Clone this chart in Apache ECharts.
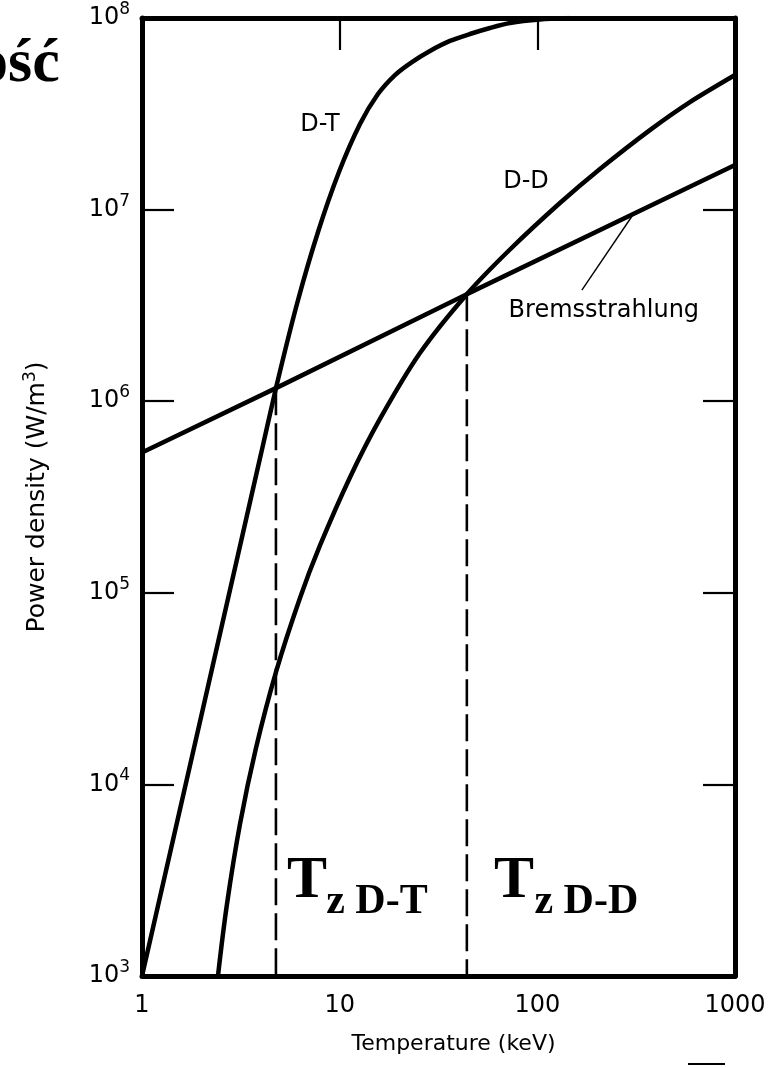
<!DOCTYPE html>
<html><head><meta charset="utf-8">
<script src="https://cdn.jsdelivr.net/npm/echarts@6/dist/echarts.min.js"></script>
<style>html,body{margin:0;padding:0;background:#fff}#c{width:782px;height:1068px}</style>
</head><body><div id="c"></div>
<script>
// ---- data ----
const xTickLabels = ['1', '10', '100', '1000'];
const yTickExponents = ['0', '1', '2', '3', '4', '5', '6', '7', '8'];

const bremsT = [1, 4.76, 44, 1000];
const bremsP = [5.4e5, 1.17e6, 3.62e6, 1.71e7];

const dtT = [1, 2, 3, 4, 4.762, 6.081, 7.77, 9.92, 12.67, 15.62, 19.05, 23.21, 28.63, 36.14, 45.62, 57.58, 72.67, 103.1, 146.2];
const dtP = [1e3, 2.305e4, 1.444e5, 5.31e5, 1.172e6, 3.217e6, 7.64e6, 1.571e7, 2.797e7, 4.01e7, 5.04e7, 5.89e7, 6.73e7, 7.59e7, 8.25e7, 8.87e7, 9.42e7, 9.83e7, 1e8];

const ddT = [2.26, 2.423, 2.692, 3.131, 3.773, 4.762, 6.299, 7.953, 11.27, 15.99, 25.48, 44, 72.7, 130.1, 207.4, 371.1, 591.6, 1000];
const ddP = [4.86e2, 1e3, 2.38e3, 6.21e3, 1.549e4, 3.86e4, 9.4e4, 1.766e5, 4.0e5, 8.08e5, 1.785e6, 3.62e6, 6.19e6, 1.082e7, 1.629e7, 2.6e7, 3.64e7, 5.04e7];

const ignitionT = [4.76, 44];
const ignitionP = [1.17e6, 3.62e6];
const floorP = 1e3;

const pointerT = [168, 304.6];
const pointerP = [3.8e6, 9.4e6];

const curveLabelText = ['D-T', 'D-D', 'Bremsstrahlung'];
const curveLabelT = [7.95, 87.6, 217];
const curveLabelP = [2.77e7, 1.39e7, 2.96e6];

const tzMainT = [6.83, 76.1];
const tzMainP = [3.13e3, 3.13e3];
const tzSubText = ['z D-T', 'z D-D'];
const tzSubT = [15.44, 177];
const tzSubP = [2.43e3, 2.43e3];

// ---- chart ----
const FONT = 'DejaVu Sans';
const SERIF = 'Liberation Serif';
const zip = (a, b) => a.map((v, i) => [v, b[i]]);
const chart = echarts.init(document.getElementById('c'), null, {renderer: 'canvas'});
const black = '#000';
const lineAxis = {color: black, width: 5};
const tickStyle = {color: black, width: 2.2};

const textLabel = (txt, family, size, weight) => ({
  show: true, position: [0, 0], align: 'center', verticalAlign: 'middle',
  formatter: txt, fontFamily: family, fontSize: size, fontWeight: weight || 'normal',
  color: black, opacity: 1, textBorderWidth: 0
});

const option = {
  animation: false,
  backgroundColor: '#fff',
  grid: {left: 142, right: 47, top: 18, bottom: 92, outerBoundsMode: 'none', containLabel: false},
  xAxis: [
    {
      type: 'log', logBase: 10, min: 1, max: 1000, position: 'bottom',
      axisLine: {onZero: false, lineStyle: lineAxis},
      axisTick: {show: false}, minorTick: {show: false}, splitLine: {show: false},
      axisLabel: {color: black, fontFamily: FONT, fontSize: 24, margin: 18,
        formatter: v => xTickLabels[Math.round(Math.log10(v))]},
      name: 'Temperature (keV)', nameLocation: 'middle', nameGap: 57,
      nameTextStyle: {color: black, fontFamily: FONT, fontSize: 22, padding: [0, 0, 0, 30]}
    },
    {
      type: 'log', logBase: 10, min: 1, max: 1000, position: 'top',
      axisLine: {onZero: false, lineStyle: lineAxis},
      axisTick: {show: true, inside: true, length: 32, lineStyle: tickStyle},
      axisLabel: {show: false}, splitLine: {show: false}
    }
  ],
  yAxis: [
    {
      type: 'log', logBase: 10, min: 1e3, max: 1e8, position: 'left',
      axisLine: {onZero: false, lineStyle: lineAxis},
      axisTick: {show: true, inside: true, length: 32, lineStyle: tickStyle},
      splitLine: {show: false},
      axisLabel: {
        color: black, margin: 12,
        formatter: v => '{b|10}{s|' + yTickExponents[Math.round(Math.log10(v))] + '}',
        rich: {
          b: {fontFamily: FONT, fontSize: 24, color: black, lineHeight: 34},
          s: {fontFamily: FONT, fontSize: 17, color: black, verticalAlign: 'top', lineHeight: 18}
        }
      },
      name: 'Power density (W/m{s|3})', nameLocation: 'middle', nameGap: 90,
      nameTextStyle: {color: black, fontFamily: FONT, fontSize: 25, lineHeight: 30,
        rich: {s: {fontFamily: FONT, fontSize: 17, color: black, verticalAlign: 'top', lineHeight: 16}}}
    },
    {
      type: 'log', logBase: 10, min: 1e3, max: 1e8, position: 'right',
      axisLine: {onZero: false, lineStyle: lineAxis},
      axisTick: {show: true, inside: true, length: 32, lineStyle: tickStyle},
      axisLabel: {show: false}, splitLine: {show: false}
    }
  ],
  graphic: [
    {type: 'text', left: -23, top: 34, style: {text: 'ość', font: 'bold 62px "Liberation Serif"', fill: black}},
    {type: 'line', shape: {x1: 688, y1: 1064, x2: 725, y2: 1064}, style: {stroke: black, lineWidth: 2}}
  ],
  series: [
    {type: 'line', name: 'Bremsstrahlung', data: zip(bremsT, bremsP), showSymbol: false, clip: true,
      lineStyle: {color: black, width: 4.5}},
    {type: 'line', name: 'D-T', data: zip(dtT, dtP), showSymbol: false, clip: true, smooth: 0.25,
      lineStyle: {color: black, width: 4.5}},
    {type: 'line', name: 'D-D', data: zip(ddT, ddP), showSymbol: false, clip: true, smooth: 0.25,
      lineStyle: {color: black, width: 4.5}},
    ...ignitionT.map((t, i) => ({
      type: 'line', name: 'ign' + i, data: [[t, ignitionP[i]], [t, floorP]], showSymbol: false,
      lineStyle: {color: black, width: 2.6, type: [27, 8]}
    })),
    {type: 'line', name: 'pointer', data: zip(pointerT, pointerP), showSymbol: false,
      lineStyle: {color: black, width: 1.4}},
    {type: 'scatter', name: 'labels', symbolSize: 0, silent: true, itemStyle: {opacity: 1, color: black},
      data: [
        ...curveLabelText.map((t, i) => ({value: [curveLabelT[i], curveLabelP[i]],
          label: textLabel(t, FONT, 24)})),
        ...tzMainT.map((t, i) => ({value: [t, tzMainP[i]],
          label: textLabel('T', SERIF, 60, 'bold')})),
        ...tzSubText.map((t, i) => ({value: [tzSubT[i], tzSubP[i]],
          label: textLabel(t, SERIF, 42, 'bold')}))
      ]}
  ]
};
chart.setOption(option);
</script></body></html>
